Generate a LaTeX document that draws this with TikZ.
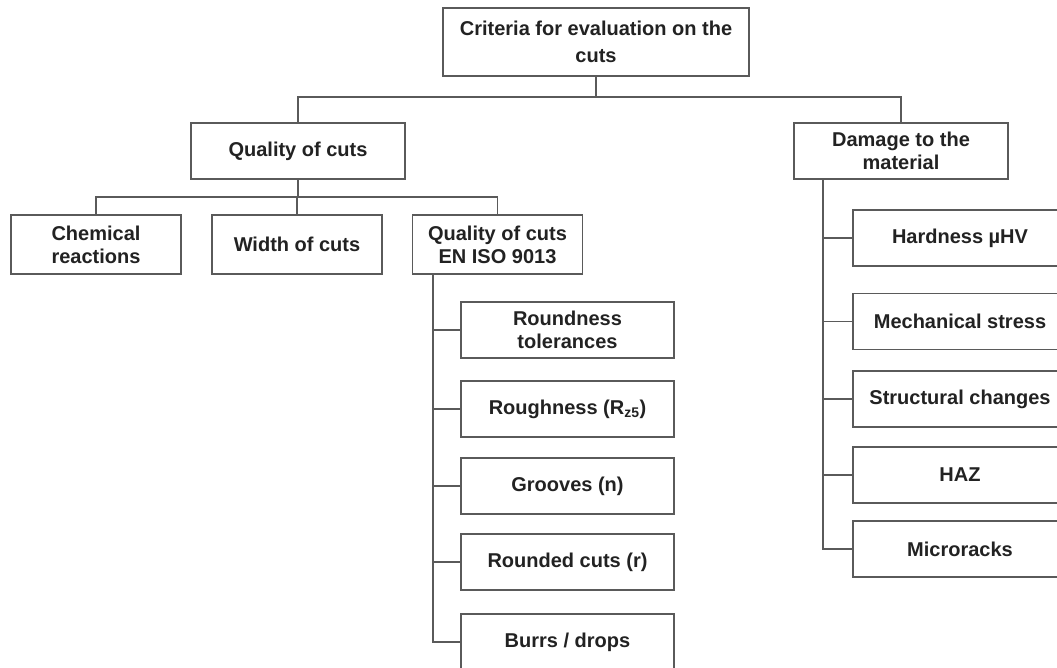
\documentclass[tikz,border=0pt]{standalone}
\usepackage{fontspec}
\setmainfont{Liberation Sans}
\definecolor{ccLine}{HTML}{5A5A5A}
\definecolor{ccText}{HTML}{222222}
\usepackage{tikz}
\usetikzlibrary{calc,positioning}

\begin{document}
\begin{tikzpicture}[x=1pt, y=-1pt,
  box/.style={draw=ccLine, line width=1.8pt, fill=white, text=ccText,
    minimum width=214pt, minimum height=56pt, align=center,
    inner sep=2pt, font=\bfseries\fontsize{20}{23}\selectfont},
  small/.style={box, minimum width=170pt, minimum height=59pt},
  link/.style={draw=ccLine, line width=1.8pt}
]
  \useasboundingbox (0,0) rectangle (1057,668);

  \node[box, minimum width=306pt, minimum height=68pt,
    font=\bfseries\fontsize{20}{27}\selectfont] (crit) at (596,42)
    {Criteria for evaluation on the\\cuts};

  \node[box] (quality) at (298,151) {Quality of cuts};
  \node[box] (damage) at (901,151) {Damage to the\\material};

  \node[small] (chem) at (96,244.5) {Chemical\\reactions};
  \node[small] (width) at (297,244.5) {Width of cuts};
  \node[small] (iso) at (497.5,244.5) {Quality of cuts\\EN ISO 9013};

  \node[box, minimum width=213pt] (round) at (567.5,330) {Roundness\\tolerances};
  \node[box, minimum width=213pt] (rough) at (567.5,409) {Roughness (R\textsubscript{z5})};
  \node[box, minimum width=213pt] (groove) at (567.5,486) {Grooves (n)};
  \node[box, minimum width=213pt] (rcuts) at (567.5,562) {Rounded cuts (r)};
  \node[box, minimum width=213pt] (burrs) at (567.5,642) {Burrs / drops};

  \node[box] (hard) at (960,238) {Hardness µHV};
  \node[box] (mech) at (960,321.5) {Mechanical stress};
  \node[box] (struct) at (960,399) {Structural changes};
  \node[box] (haz) at (960,475) {HAZ};
  \node[box] (micro) at (960,549) {Microracks};

  \coordinate (j1) at (596,97);
  \coordinate (j2) at (298,197);
  \coordinate (t1) at (433,274);
  \coordinate (t2) at (823,179);

  \draw[link] (crit.south) -- (j1);
  \draw[link] (quality.north) |- (j1) -| (damage.north);
  \draw[link] (quality.south) -- (j2);
  \draw[link] (chem.north) |- (j2) -| (iso.north);
  \draw[link] (width.north) -- (width.north |- j2);

  \draw[link] (t1) |- (burrs.west);
  \foreach \n in {round,rough,groove,rcuts}
    \draw[link] (t1 |- \n.west) -- (\n.west);

  \draw[link] (t2) |- (micro.west);
  \foreach \n in {hard,mech,struct,haz}
    \draw[link] (t2 |- \n.west) -- (\n.west);
\end{tikzpicture}
\end{document}
